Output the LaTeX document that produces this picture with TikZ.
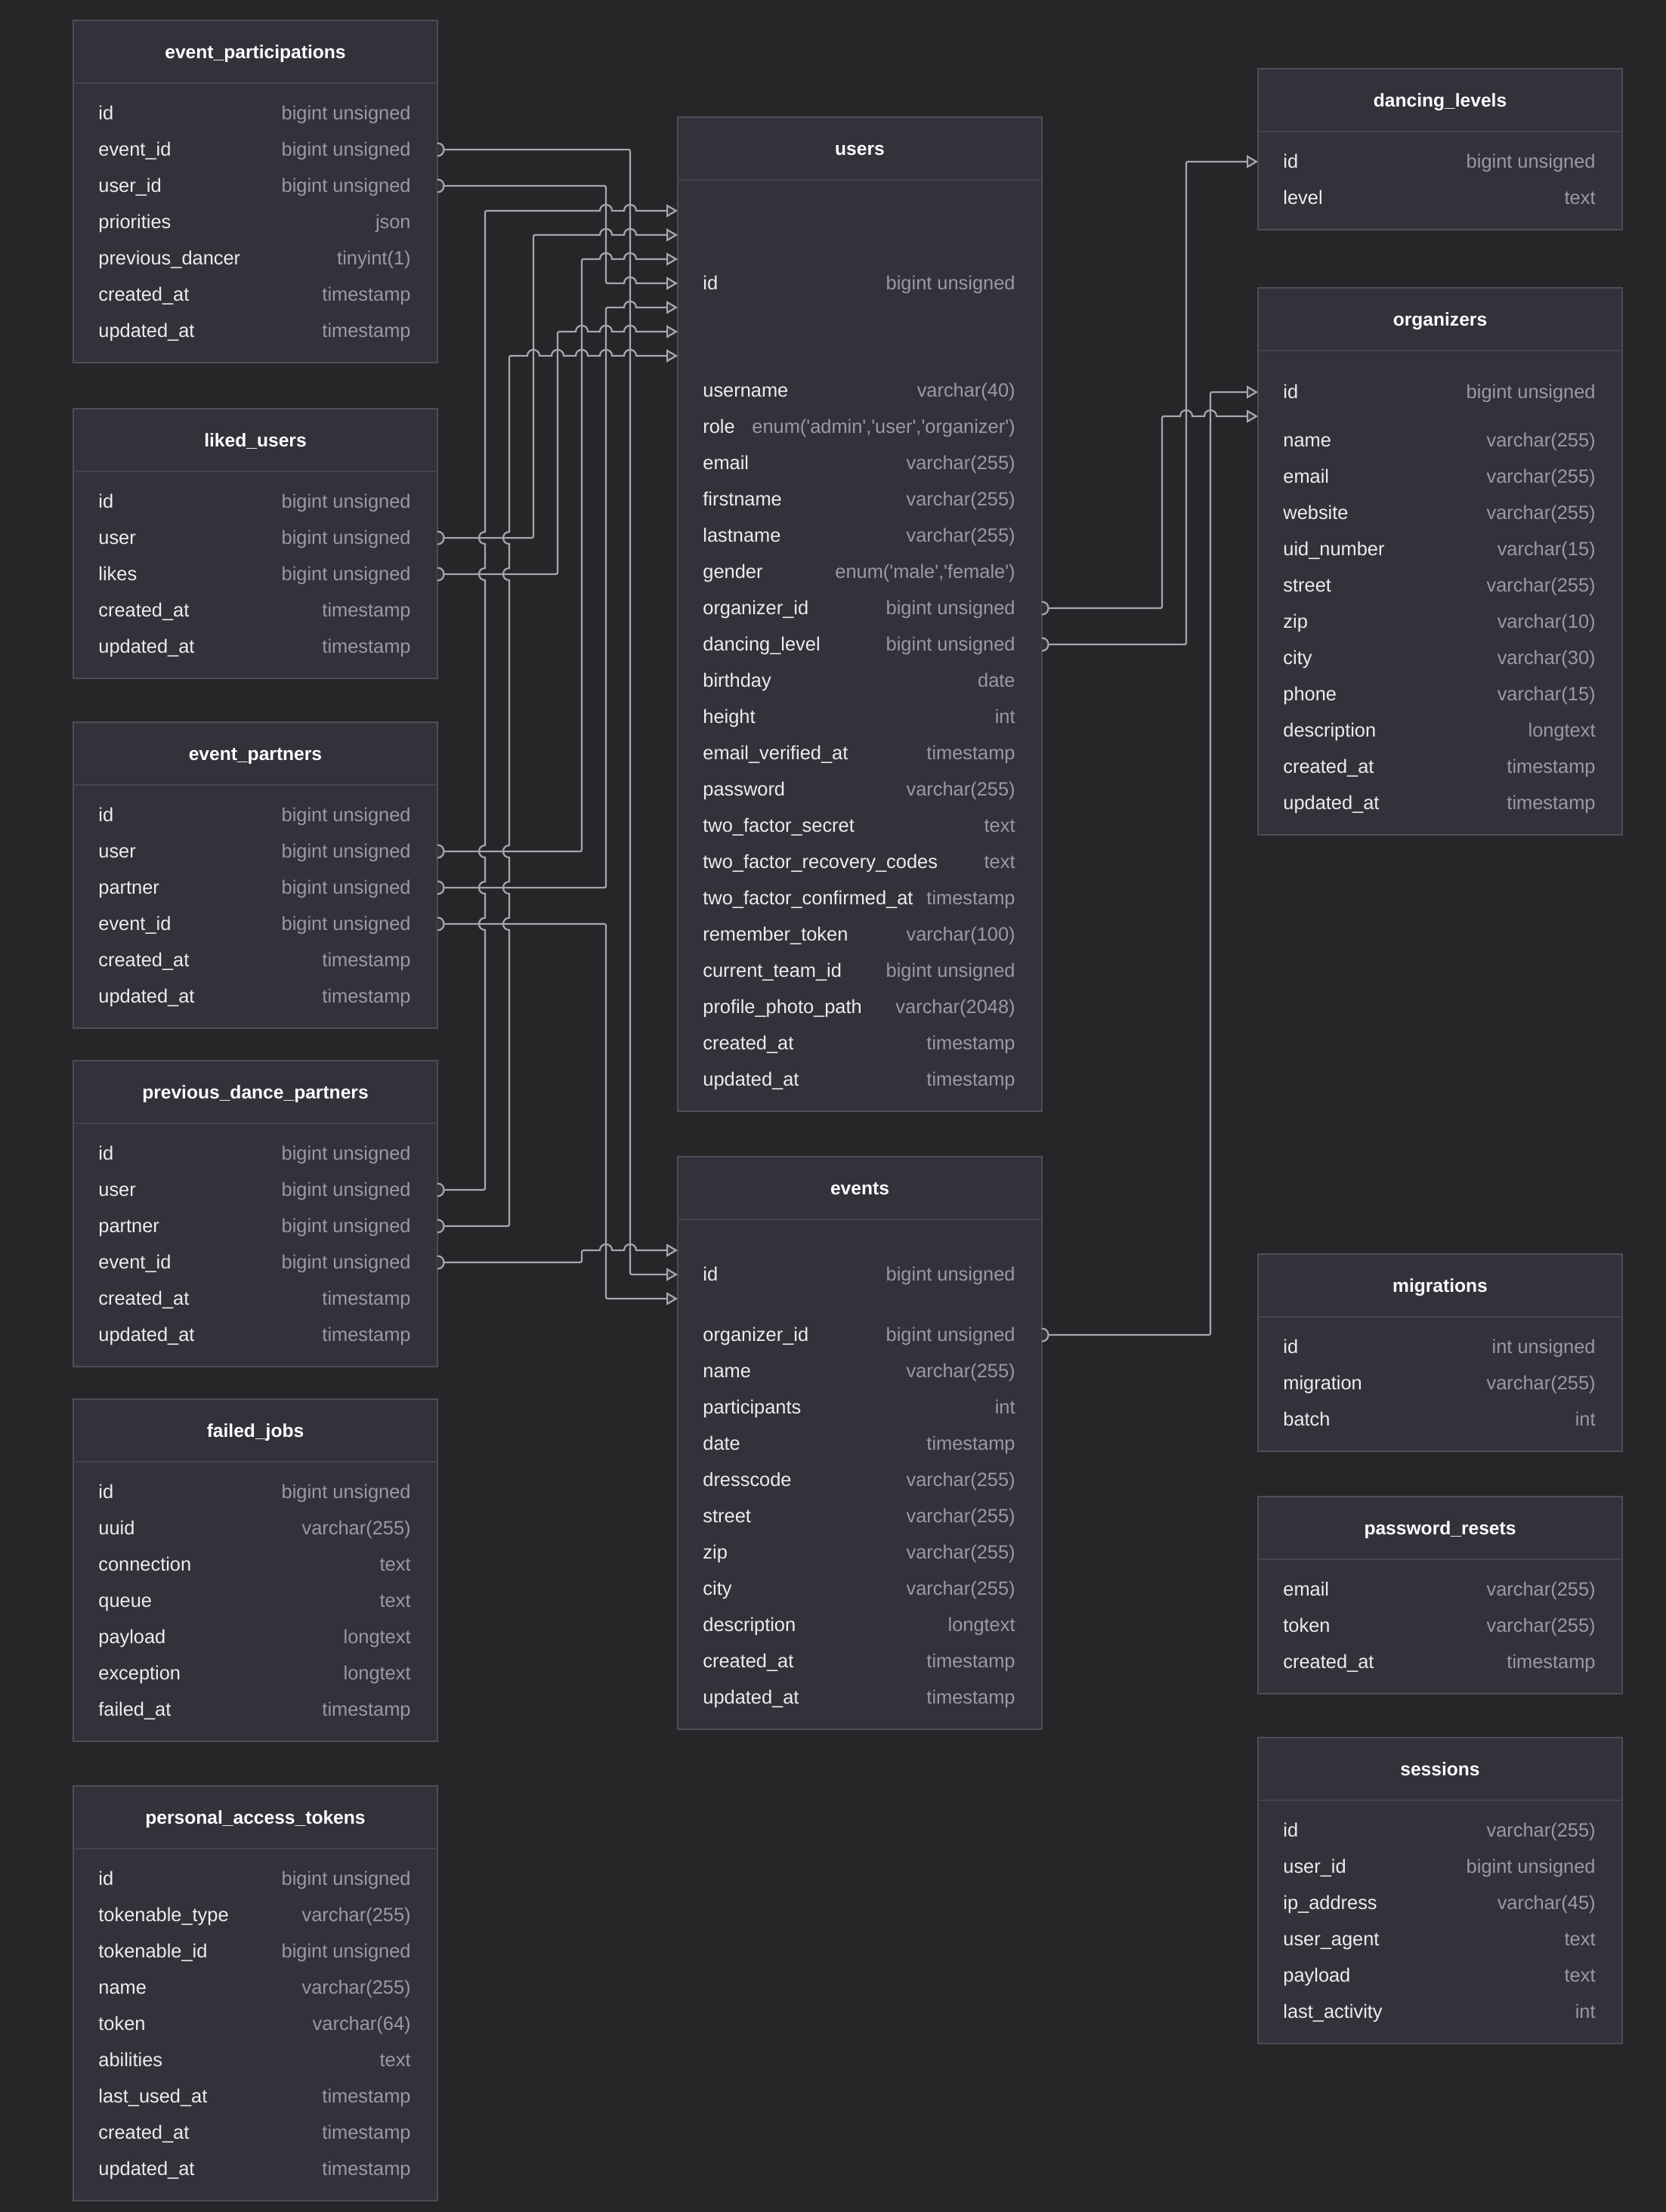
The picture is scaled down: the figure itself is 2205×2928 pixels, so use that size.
\documentclass[tikz,border=0pt]{standalone}
\usepackage{fontspec}
\setmainfont{Liberation Sans}
\usetikzlibrary{arrows.meta,calc}
\definecolor{bg}{HTML}{262629}
\definecolor{tblfill}{HTML}{32323A}
\definecolor{tblborder}{HTML}{4D4D55}
\definecolor{sepcol}{HTML}{44444C}
\definecolor{fkline}{HTML}{A6A6AD}
\definecolor{nametxt}{HTML}{EDEDEF}
\definecolor{typetxt}{HTML}{9A9AA2}
\tikzset{
  fk/.style={draw=fkline, line width=1.1pt},
  fkarrow/.style={fk, -{Triangle[length=7.5pt,width=8.5pt,fill=tblfill]}},
  colname/.style={anchor=west, inner sep=0pt, text height=12pt, text depth=4pt, text=nametxt, font=\fontsize{12.7}{15}\selectfont},
  coltype/.style={anchor=east, inner sep=0pt, text height=12pt, text depth=4pt, text=typetxt, font=\fontsize{12.7}{15}\selectfont},
  hdrtxt/.style={inner sep=0pt, text height=12pt, text depth=3pt, text=white, font=\bfseries\fontsize{12.3}{15}\selectfont},
  tblframe/.style={draw=tblborder, fill=tblfill, line width=1pt, inner sep=0pt, outer sep=0pt, anchor=north west, minimum width=241pt},
  sepline/.style={draw=sepcol, line width=1pt}
}
\newcommand\sq{\textquotesingle}
\newcommand\tbl[5]{%
  \xdef\curx{#2}%
  \pgfmathsetmacro\tblh{(#4-#3)*0.5}%
  \node[tblframe, minimum height=\tblh pt] (#1) at (#2,#3) {};%
  \draw[sepline] (#2,#3+83) -- (#2+482,#3+83);%
  \node[hdrtxt] (#1-title) at (#2+241,#3+41.5) {#5};%
}
\newcommand\rowsat[3]{%
  \foreach \rn/\rt [count=\ri from 0] in {#3} {%
    \node[colname] (#1-r\ri) at (\curx+33,#2+48*\ri) {\rn};
    \node[coltype] (#1-t\ri) at (\curx+447,#2+48*\ri) {\rt};
  }%
}
% hop of a rightward line over a vertical one at (x,y)
\newcommand\hop[2]{-- (#1-8,#2) .. controls (#1-8,#2-10.7) and (#1+8,#2-10.7) .. (#1+8,#2)}
% hop of an upward line over a horizontal one at (x,y)
\newcommand\vhop[2]{-- (#1,#2+8) .. controls (#1-10.7,#2+8) and (#1-10.7,#2-8) .. (#1,#2-8)}
% rounded corners
\newcommand\crd[2]{-- (#1-5,#2) .. controls (#1,#2) .. (#1,#2+5)}
\newcommand\cru[2]{-- (#1-5,#2) .. controls (#1,#2) .. (#1,#2-5)}
\newcommand\cdr[2]{-- (#1,#2-5) .. controls (#1,#2) .. (#1+5,#2)}
\newcommand\cur[2]{-- (#1,#2+5) .. controls (#1,#2) .. (#1+5,#2)}
\newcommand\fkcirc[1]{\draw[fk,fill=tblfill] ($(#1)+(0,-8.5)$) .. controls +(11.3,0) and +(11.3,0) .. ($(#1)+(0,8.5)$);}
\begin{document}
\begin{tikzpicture}[x=0.5pt,y=-0.5pt]
\fill[bg] (0,0) rectangle (2205,2928);
\useasboundingbox (0,0) rectangle (2205,2928);

% ---------------- left column
\tbl{ep}{97}{27}{480}{event\_participations}
\rowsat{ep}{150}{id/bigint unsigned, event\_id/bigint unsigned, user\_id/bigint unsigned, priorities/json, previous\_dancer/tinyint(1), created\_at/timestamp, updated\_at/timestamp}

\tbl{lu}{97}{541}{898}{liked\_users}
\rowsat{lu}{664}{id/bigint unsigned, user/bigint unsigned, likes/bigint unsigned, created\_at/timestamp, updated\_at/timestamp}

\tbl{epa}{97}{956}{1361}{event\_partners}
\rowsat{epa}{1079}{id/bigint unsigned, user/bigint unsigned, partner/bigint unsigned, event\_id/bigint unsigned, created\_at/timestamp, updated\_at/timestamp}

\tbl{pdp}{97}{1404}{1809}{previous\_dance\_partners}
\rowsat{pdp}{1527}{id/bigint unsigned, user/bigint unsigned, partner/bigint unsigned, event\_id/bigint unsigned, created\_at/timestamp, updated\_at/timestamp}

\tbl{fj}{97}{1852}{2305}{failed\_jobs}
\rowsat{fj}{1975}{id/bigint unsigned, uuid/varchar(255), connection/text, queue/text, payload/longtext, exception/longtext, failed\_at/timestamp}

\tbl{pat}{97}{2364}{2913}{personal\_access\_tokens}
\rowsat{pat}{2487}{id/bigint unsigned, tokenable\_type/varchar(255), tokenable\_id/bigint unsigned, name/varchar(255), token/varchar(64), abilities/text, last\_used\_at/timestamp, created\_at/timestamp, updated\_at/timestamp}

% ---------------- middle column
\tbl{users}{897}{155}{1471}{users}
\node[colname] (users-id) at (930,375) {id};
\node[coltype] (users-idt) at (1344,375) {bigint unsigned};
\rowsat{users}{517}{username/varchar(40), role/{enum(\sq admin\sq,\sq user\sq,\sq organizer\sq)}, email/varchar(255), firstname/varchar(255), lastname/varchar(255), gender/{enum(\sq male\sq,\sq female\sq)}, organizer\_id/bigint unsigned, dancing\_level/bigint unsigned, birthday/date, height/int, email\_verified\_at/timestamp, password/varchar(255), two\_factor\_secret/text, two\_factor\_recovery\_codes/text, two\_factor\_confirmed\_at/timestamp, remember\_token/varchar(100), current\_team\_id/bigint unsigned, profile\_photo\_path/varchar(2048), created\_at/timestamp, updated\_at/timestamp}

\tbl{ev}{897}{1531}{2289}{events}
\node[colname] (ev-id) at (930,1687) {id};
\node[coltype] (ev-idt) at (1344,1687) {bigint unsigned};
\rowsat{ev}{1767}{organizer\_id/bigint unsigned, name/varchar(255), participants/int, date/timestamp, dresscode/varchar(255), street/varchar(255), zip/varchar(255), city/varchar(255), description/longtext, created\_at/timestamp, updated\_at/timestamp}

% ---------------- right column
\tbl{dl}{1665}{91}{304}{dancing\_levels}
\rowsat{dl}{214}{id/bigint unsigned, level/text}

\tbl{org}{1665}{381}{1105}{organizers}
\node[colname] (org-id) at (1698,519) {id};
\node[coltype] (org-idt) at (2112,519) {bigint unsigned};
\rowsat{org}{583}{name/varchar(255), email/varchar(255), website/varchar(255), uid\_number/varchar(15), street/varchar(255), zip/varchar(10), city/varchar(30), phone/varchar(15), description/longtext, created\_at/timestamp, updated\_at/timestamp}

\tbl{mig}{1665}{1660}{1921}{migrations}
\rowsat{mig}{1783}{id/int unsigned, migration/varchar(255), batch/int}

\tbl{pr}{1665}{1981}{2242}{password\_resets}
\rowsat{pr}{2104}{email/varchar(255), token/varchar(255), created\_at/timestamp}

\tbl{ses}{1665}{2300}{2705}{sessions}
\rowsat{ses}{2423}{id/varchar(255), user\_id/bigint unsigned, ip\_address/varchar(45), user\_agent/text, payload/text, last\_activity/int}

% ---------------- connector end points
\foreach \k/\o in {1/-96,2/-64,3/-32,4/0,5/32,6/64,7/96}{
  \coordinate (ua\k) at ($(users.west |- users-id)+(0,\o)$);
}
\coordinate (ea1) at ($(ev.west |- ev-id)+(0,-32)$);
\coordinate (ea2) at (ev.west |- ev-id);
\coordinate (ea3) at ($(ev.west |- ev-id)+(0,32)$);
\coordinate (oa1) at (org.west |- org-id);
\coordinate (oa2) at ($(org.west |- org-id)+(0,32)$);
\coordinate (da1) at (dl.west |- dl-r0);

\coordinate (s-ep-ev) at (ep.east |- ep-r1);
\coordinate (s-ep-us) at (ep.east |- ep-r2);
\coordinate (s-lu-us) at (lu.east |- lu-r1);
\coordinate (s-lu-li) at (lu.east |- lu-r2);
\coordinate (s-epa-us) at (epa.east |- epa-r1);
\coordinate (s-epa-pa) at (epa.east |- epa-r2);
\coordinate (s-epa-ev) at (epa.east |- epa-r3);
\coordinate (s-pdp-us) at (pdp.east |- pdp-r1);
\coordinate (s-pdp-pa) at (pdp.east |- pdp-r2);
\coordinate (s-pdp-ev) at (pdp.east |- pdp-r3);
\coordinate (s-us-org) at (users.east |- users-r6);
\coordinate (s-us-dl) at (users.east |- users-r7);
\coordinate (s-ev-org) at (ev.east |- ev-r0);

% ---------------- connectors (left)
\draw[fkarrow] ($(s-ep-ev)+(8.5,0)$) \crd{834}{198} \cdr{834}{1687} -- (ea2);
\draw[fkarrow] ($(s-ep-us)+(8.5,0)$) \crd{802}{246} \cdr{802}{375} \hop{834}{375} -- (ua4);
\draw[fkarrow] ($(s-lu-us)+(8.5,0)$) \cru{706}{712} \cur{706}{311} \hop{802}{311} \hop{834}{311} -- (ua2);
\draw[fkarrow] ($(s-lu-li)+(8.5,0)$) \cru{738}{760} \cur{738}{439} \hop{770}{439} \hop{802}{439} \hop{834}{439} -- (ua6);
\draw[fkarrow] ($(s-epa-us)+(8.5,0)$) \cru{770}{1127} \cur{770}{343} \hop{802}{343} \hop{834}{343} -- (ua3);
\draw[fkarrow] ($(s-epa-pa)+(8.5,0)$) \cru{802}{1175} \cur{802}{407} \hop{834}{407} -- (ua5);
\draw[fkarrow] ($(s-epa-ev)+(8.5,0)$) \crd{802}{1223} \cdr{802}{1719} -- (ea3);
\draw[fkarrow] ($(s-pdp-us)+(8.5,0)$) \cru{642}{1575} \vhop{642}{1223} \vhop{642}{1175} \vhop{642}{1127} \vhop{642}{760} \vhop{642}{712} \cur{642}{279} \hop{802}{279} \hop{834}{279} -- (ua1);
\draw[fkarrow] ($(s-pdp-pa)+(8.5,0)$) \cru{674}{1623} \vhop{674}{1223} \vhop{674}{1175} \vhop{674}{1127} \vhop{674}{760} \vhop{674}{712} \cur{674}{471} \hop{706}{471} \hop{738}{471} \hop{770}{471} \hop{802}{471} \hop{834}{471} -- (ua7);
\draw[fkarrow] ($(s-pdp-ev)+(8.5,0)$) \cru{770}{1671} \cur{770}{1655} \hop{802}{1655} \hop{834}{1655} -- (ea1);

% ---------------- connectors (right)
\draw[fkarrow] ($(s-us-org)+(8.5,0)$) \cru{1538}{805} \cur{1538}{551} \hop{1570}{551} \hop{1602}{551} -- (oa2);
\draw[fkarrow] ($(s-us-dl)+(8.5,0)$) \cru{1570}{853} \cur{1570}{214} -- (da1);
\draw[fkarrow] ($(s-ev-org)+(8.5,0)$) \cru{1602}{1767} \cur{1602}{519} -- (oa1);

% ---------------- circle ends
\foreach \s in {s-ep-ev,s-ep-us,s-lu-us,s-lu-li,s-epa-us,s-epa-pa,s-epa-ev,s-pdp-us,s-pdp-pa,s-pdp-ev,s-us-org,s-us-dl,s-ev-org}{
  \fkcirc{\s}
}
\end{tikzpicture}
\end{document}
